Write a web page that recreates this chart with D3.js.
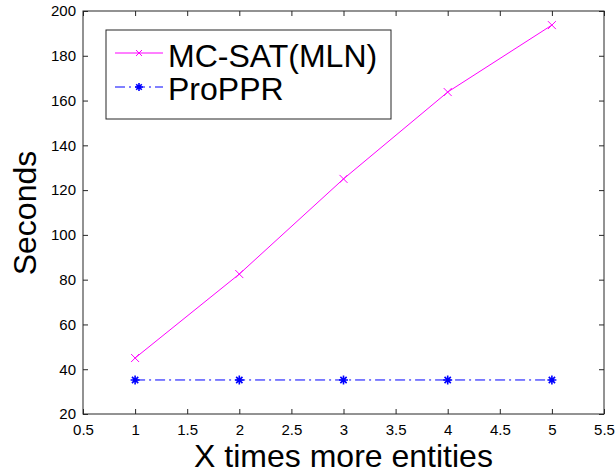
<!DOCTYPE html>
<html>
<head>
<script src="https://d3js.org/d3.v7.min.js"></script>
<style>
  body { margin: 0; background: #fff; }
  text { font-family: "Liberation Sans", Arial, sans-serif; fill: #000; }
</style>
</head>
<body>
<div id="chart"></div>
<script>
// data
const xs = [1, 2, 3, 4, 5];
const mcsat = [45, 82.5, 125, 163.8, 193.7];
const proppr = [35.2, 35.2, 35.2, 35.2, 35.2];
const xTicks = [0.5, 1, 1.5, 2, 2.5, 3, 3.5, 4, 4.5, 5, 5.5];
const yTicks = [20, 40, 60, 80, 100, 120, 140, 160, 180, 200];

const W = 616, H = 475;
const m = {left: 83, right: 12, top: 11, bottom: 61};

let svg = d3.select("#chart").append("svg")
  .attr("width", W).attr("height", H);

let x = d3.scaleLinear().domain([0.5, 5.5]).range([m.left, W - m.right]);
let y = d3.scaleLinear().domain([20, 200]).range([H - m.bottom, m.top]);

const axCol = "#262626";

// ticks, pointing inward, on all four sides
let xa = svg.append("g").attr("transform", `translate(0,${y(20)})`)
  .call(d3.axisBottom(x).tickValues(xTicks).tickSizeInner(-5).tickSizeOuter(0)
    .tickPadding(10).tickFormat(d3.format("")));
let xt = svg.append("g").attr("transform", `translate(0,${y(200)})`)
  .call(d3.axisTop(x).tickValues(xTicks).tickSizeInner(-5).tickSizeOuter(0).tickFormat(""));
let ya = svg.append("g").attr("transform", `translate(${x(0.5)},0)`)
  .call(d3.axisLeft(y).tickValues(yTicks).tickSizeInner(-5).tickSizeOuter(0).tickPadding(7));
let yr = svg.append("g").attr("transform", `translate(${x(5.5)},0)`)
  .call(d3.axisRight(y).tickValues(yTicks).tickSizeInner(-5).tickSizeOuter(0).tickFormat(""));

[xa, xt, ya, yr].forEach(g => {
  g.select(".domain").remove();
  g.selectAll("line").attr("stroke", axCol);
  g.selectAll("text").style("font-size", "15px").attr("fill", "#111");
});

svg.append("rect")
  .attr("x", x(0.5)).attr("y", y(200))
  .attr("width", x(5.5) - x(0.5)).attr("height", y(20) - y(200))
  .attr("fill", "none").attr("stroke", axCol).attr("stroke-width", 1);

// series
let line = d3.line().x((d, i) => x(xs[i])).y(d => y(d));

svg.append("path").datum(mcsat)
  .attr("d", line).attr("fill", "none")
  .attr("stroke", "#ff00ff").attr("stroke-width", 1);

svg.append("path").datum(proppr)
  .attr("d", line).attr("fill", "none")
  .attr("stroke", "#0000ff").attr("stroke-width", 1)
  .attr("stroke-dasharray", "10,4,2,4");

function xMark(g, cx, cy, s, col) {
  g.append("path")
    .attr("d", `M${cx - s},${cy - s}L${cx + s},${cy + s}M${cx - s},${cy + s}L${cx + s},${cy - s}`)
    .attr("stroke", col).attr("stroke-width", 1).attr("fill", "none");
}
function starMark(g, cx, cy, s, col) {
  let d = `M${cx - s},${cy}L${cx + s},${cy}M${cx},${cy - s}L${cx},${cy + s}`;
  let k = s * 0.7;
  d += `M${cx - k},${cy - k}L${cx + k},${cy + k}M${cx - k},${cy + k}L${cx + k},${cy - k}`;
  g.append("path").attr("d", d)
    .attr("stroke", col).attr("stroke-width", 1.6).attr("fill", "none");
}

let marks = svg.append("g");
mcsat.forEach((v, i) => xMark(marks, x(xs[i]), y(v), 4, "#ff00ff"));
proppr.forEach((v, i) => starMark(marks, x(xs[i]), y(v), 4.5, "#0000ff"));

// axis labels
svg.append("text")
  .attr("x", (x(0.5) + x(5.5)) / 2).attr("y", 467)
  .attr("text-anchor", "middle").style("font-size", "32px")
  .text("X times more entities");

svg.append("text")
  .attr("transform", "translate(36,213) rotate(-90)")
  .attr("text-anchor", "middle").style("font-size", "32px")
  .text("Seconds");

// legend
let leg = svg.append("g");
leg.append("rect")
  .attr("x", 106).attr("y", 30).attr("width", 285).attr("height", 89)
  .attr("fill", "#fff").attr("stroke", axCol).attr("stroke-width", 1);

leg.append("line").attr("x1", 115).attr("x2", 163).attr("y1", 53).attr("y2", 53)
  .attr("stroke", "#ff00ff").attr("stroke-width", 1);
xMark(leg, 139, 53, 3, "#ff00ff");
leg.append("text").attr("x", 168).attr("y", 67).style("font-size", "32px").text("MC-SAT(MLN)");

leg.append("line").attr("x1", 115).attr("x2", 163).attr("y1", 87).attr("y2", 87)
  .attr("stroke", "#0000ff").attr("stroke-width", 1)
  .attr("stroke-dasharray", "10,4,2,4");
starMark(leg, 139, 87, 4, "#0000ff");
leg.append("text").attr("x", 168).attr("y", 100).style("font-size", "32px").text("ProPPR");
</script>
</body>
</html>
